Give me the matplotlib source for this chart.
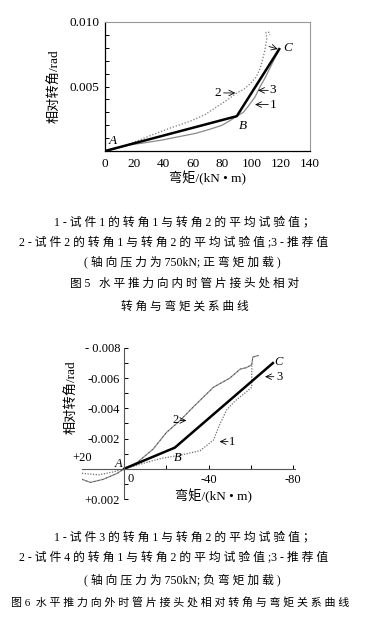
import matplotlib
matplotlib.use("Agg")
import matplotlib.pyplot as plt
from matplotlib.ticker import MultipleLocator, FixedLocator

FAM = ['Liberation Serif', 'Noto Sans CJK SC']
plt.rcParams['font.family'] = FAM

# ---------------- Figure 5 data (positive moment) ----------------
f5_rec_x = [0, 90, 119]
f5_rec_y = [0, 0.0027, 0.0079]

f5_c1_x = [0, 8, 16, 25, 39, 50, 62, 72, 80, 86, 90, 94.5, 98, 102.5, 106, 109, 112.5, 116, 118.4]
f5_c1_y = [0, 0.0002, 0.00047, 0.0006, 0.00085, 0.0011, 0.00137, 0.0017, 0.0020, 0.0024, 0.0027,
           0.0030, 0.0035, 0.0042, 0.0050, 0.0056, 0.0064, 0.0072, 0.0077]

f5_c2_x = [0, 10, 20, 35, 45, 58, 68, 76, 84, 90, 95, 99, 103, 106, 109, 110.5, 110, 112, 112.5]
f5_c2_y = [0, 0.0003, 0.0007, 0.00137, 0.0018, 0.0023, 0.0028, 0.0034, 0.0040, 0.0045, 0.0048,
           0.0052, 0.0057, 0.0064, 0.0077, 0.0087, 0.0092, 0.0092, 0.0090]

f5_xticks = [0, 20, 40, 60, 80, 100, 120, 140]
f5_yticks = [0.005, 0.010]
f5_yticklabels = ['0.005', '0.010']

# ---------------- Figure 6 data (negative moment) ----------------
f6_rec_x = [0, -24, -70.5]
f6_rec_y = [0, -0.0014, -0.0070]

f6_c1_x = [20, 12, 5, 0, -10, -18, -26.5, -36, -42.3, -45.5, -48.6, -52.6, -58, -60.5, -60.5]
f6_c1_y = [0.0003, 0.0004, 0.0002, 0, -0.0004, -0.0007, -0.0009, -0.0012, -0.0019, -0.0030,
           -0.0039, -0.0045, -0.0051, -0.0054, -0.0069]

f6_c2_x = [20, 16, 10, 3.3, 0, -6, -13.7, -20, -26.5, -32.8, -42.3, -50, -55, -58, -60.5, -61, -63.6]
f6_c2_y = [0.0007, 0.0009, 0.0007, 0.0003, 0, -0.0004, -0.0013, -0.0024, -0.0032, -0.0041,
           -0.0054, -0.0060, -0.0066, -0.0067, -0.0069, -0.0074, -0.0075]

f6_xticks = [-20, -40, -60, -80]
f6_xticklabels = ['', '-40', '', '-80']
f6_yticks = [-0.008, -0.006, -0.004, -0.002, 0.002]
f6_yticklabels = ['- 0.008', '-0.006', '-0.004', '-0.002', '+0.002']

cap5 = ["1 - 试件1 的转角 1 与转角 2 的平均试验值；",
        "2 - 试件 2 的转角 1 与转角 2 的平均试验值 ;3 - 推荐值",
        "( 轴向压力为 750kN;正弯矩加载)",
        "图5   水平推力向内时管片接头处相对",
        "转角与弯矩关系曲线"]
cap6 = ["1 - 试件3 的转角 1 与转角 2 的平均试验值；",
        "2 - 试件 4 的转角 1 与转角 2 的平均试验值 ;3 - 推荐值",
        "( 轴向压力为 750kN;负弯矩加载)",
        "图6  水平推力向外时管片接头处相对转角与弯矩关系曲线"]


def is_cjk(ch):
    o = ord(ch)
    return (0x3000 <= o <= 0x9FFF) or (0xFF00 <= o <= 0xFFEF)


def spaced(s):
    """Imitate the wide letter spacing of the printed caption."""
    out = ''
    for i, ch in enumerate(s):
        out += ch
        if i + 1 < len(s):
            nx = s[i + 1]
            if ch != ' ' and nx != ' ' and (is_cjk(ch) or is_cjk(nx)):
                out += ' '
    return out


W, H = 373, 622
fig = plt.figure(figsize=(W / 100, H / 100), dpi=100)


def fx(px):
    return px / W


def fy(py):
    return 1 - py / H


TK1 = 9.5
TK = 9
LB = 9.5

# ================= Figure 5 =================
ax1 = fig.add_axes([fx(105), fy(151), (310 - 105) / W, (151 - 22) / H])
ax1.set_xlim(0, 140)
ax1.set_ylim(0, 0.010)
ax1.plot(f5_c1_x, f5_c1_y, color='#8a8a8a', lw=0.9)
ax1.plot(f5_c2_x, f5_c2_y, color='#777777', lw=0.9, ls=(0, (1, 1.5)))
ax1.plot(f5_rec_x, f5_rec_y, color='black', lw=1.8)
ax1.set_xticks(f5_xticks)
ax1.set_xticklabels([str(v) for v in f5_xticks], fontsize=TK1)
ax1.set_yticks(f5_yticks)
ax1.set_yticklabels(f5_yticklabels, fontsize=TK1)
ax1.yaxis.set_minor_locator(MultipleLocator(0.001))
ax1.tick_params(axis='x', length=0, pad=5)
ax1.tick_params(axis='y', which='both', direction='in', length=3, width=0.7, pad=4)
for s in ['top', 'right']:
    ax1.spines[s].set_color('#999999')
    ax1.spines[s].set_linewidth(0.8)
for s in ['left', 'bottom']:
    ax1.spines[s].set_linewidth(0.9)
ax1.set_xlabel('弯矩/(kN • m)', fontsize=LB, labelpad=1)
ax1.set_ylabel('相对转角/rad', fontsize=LB, labelpad=6)

arr = dict(arrowstyle='->', lw=0.6, color='black', shrinkA=0, shrinkB=0)
ax1.annotate('', xy=(89, 0.0045), xytext=(81, 0.0045), arrowprops=arr)
ax1.text(77, 0.0045, '2', fontsize=TK1, ha='center', va='center')
ax1.annotate('', xy=(104.5, 0.0047), xytext=(111.5, 0.0047), arrowprops=arr)
ax1.text(114.5, 0.0047, '3', fontsize=TK1, ha='center', va='center')
ax1.annotate('', xy=(102.5, 0.0036), xytext=(111.5, 0.0036), arrowprops=arr)
ax1.text(114.5, 0.0036, '1', fontsize=TK1, ha='center', va='center')
ax1.annotate('', xy=(118, 0.0079), xytext=(112, 0.0081), arrowprops=arr)
ax1.text(125, 0.0080, 'C', fontsize=TK1, ha='center', va='center', style='italic')
ax1.text(5, 0.0008, 'A', fontsize=TK1, ha='center', va='center', style='italic')
ax1.text(94, 0.0019, 'B', fontsize=TK1, ha='center', va='center', style='italic')

# ================= Figure 6 =================
ax2 = fig.add_axes([fx(82), fy(499), (295 - 82) / W, (499 - 348) / H])
ax2.set_xlim(20, -81)
ax2.set_ylim(0.002, -0.008)
for s in ['top', 'right']:
    ax2.spines[s].set_visible(False)
ax2.spines['left'].set_position(('data', 0))
ax2.spines['bottom'].set_position(('data', 0))
ax2.spines['left'].set_color('#555555')
ax2.spines['bottom'].set_color('#555555')
ax2.spines['left'].set_linewidth(0.8)
ax2.spines['bottom'].set_linewidth(0.8)

ax2.plot(f6_c1_x, f6_c1_y, color='#707070', lw=0.9, ls=(0, (1, 1.2)))
ax2.plot(f6_c2_x, f6_c2_y, color='#8a8a8a', lw=0.9)
ax2.plot(f6_c2_x, f6_c2_y, color='#444444', lw=0.5, ls=(0, (2, 4)))
ax2.plot(f6_rec_x, f6_rec_y, color='black', lw=1.8)

ax2.set_yticks(f6_yticks)
ax2.set_yticklabels(f6_yticklabels, fontsize=TK)
ax2.yaxis.set_minor_locator(MultipleLocator(0.001))
ax2.tick_params(axis='y', which='both', direction='in', length=3, width=0.7, pad=3)
ax2.xaxis.set_major_locator(FixedLocator(f6_xticks))
ax2.set_xticklabels(f6_xticklabels, fontsize=TK)
ax2.tick_params(axis='x', direction='in', length=3, width=0.7, pad=4)
ax2.text(-1.5, 0.0003, '0', fontsize=TK, ha='left', va='top')
ax2.text(20, -0.0003, '+20', fontsize=TK, ha='center', va='bottom')

ax2.annotate('', xy=(-29.5, -0.0032), xytext=(-26.5, -0.0032), arrowprops=arr)
ax2.text(-24.2, -0.0032, '2', fontsize=TK, ha='center', va='center')
ax2.annotate('', xy=(-66.8, -0.0061), xytext=(-71, -0.0061), arrowprops=arr)
ax2.text(-73.5, -0.0061, '3', fontsize=TK, ha='center', va='center')
ax2.annotate('', xy=(-45.2, -0.0018), xytext=(-49.3, -0.0018), arrowprops=arr)
ax2.text(-51, -0.00175, '1', fontsize=TK, ha='center', va='center')
ax2.text(2.8, -0.0003, 'A', fontsize=TK, ha='center', va='center', style='italic')
ax2.text(-25.6, -0.0007, 'B', fontsize=TK, ha='center', va='center', style='italic')
ax2.text(-73, -0.0071, 'C', fontsize=TK, ha='center', va='center', style='italic')

fig.text(fx(213), fy(496), '弯矩/(kN • m)', fontsize=LB, ha='center', va='center')
fig.text(fx(72), fy(397), '相对转角/rad', fontsize=LB, ha='center', va='center', rotation=90)

# ================= Captions =================
c5_pos = [(184, 222), (174, 243), (182, 262), (185, 284), (185, 307)]
c5_fs = [8.5, 8.5, 8.5, 8.4, 8.4]
for t, (x, y), s in zip(cap5, c5_pos, c5_fs):
    fig.text(fx(x), fy(y), spaced(t), fontsize=s, ha='center', va='center')

c6_pos = [(184, 537), (174, 558), (182, 580), (180, 603)]
c6_fs = [8.5, 8.5, 8.5, 7.9]
for t, (x, y), s in zip(cap6, c6_pos, c6_fs):
    fig.text(fx(x), fy(y), spaced(t), fontsize=s, ha='center', va='center')

fig.savefig('out.png', dpi=100)
